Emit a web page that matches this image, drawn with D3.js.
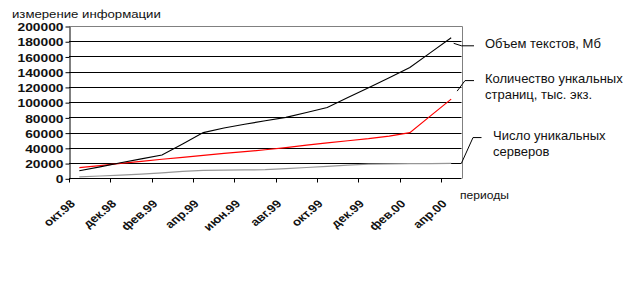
<!DOCTYPE html>
<html><head><meta charset="utf-8">
<script src="https://cdn.jsdelivr.net/npm/d3@7"></script>
<style>
html,body{margin:0;padding:0;background:#fff;}
svg{display:block;font-family:"Liberation Sans",Arial,sans-serif;}
</style></head>
<body><svg id="c" width="636" height="281"></svg>
<script>
const categories = ["окт.98","ноя.98","дек.98","янв.99","фев.99","мар.99","апр.99","май.99","июн.99","июл.99","авг.99","сен.99","окт.99","ноя.99","дек.99","янв.00","фев.00","мар.00","апр.00"];
const textVolume = [10000,15000,20500,25500,30500,45000,60000,66000,71000,75500,80000,86500,93000,106000,119000,132000,145500,165000,184500];
const uniquePages = [14000,16700,19500,22200,25000,27600,30200,32700,35000,37500,40200,43500,46500,49300,52000,55500,60000,82000,104000];
const uniqueServers = [2000,3000,4300,5600,7000,9000,10500,10800,11000,11300,12800,14200,15700,17200,18500,19000,19200,19400,19600];
const yTicks = [0,20000,40000,60000,80000,100000,120000,140000,160000,180000,200000];
const seriesNames = ["Объем текстов, Мб", ["Количество ункальных","страниц, тыс. экз."], ["Число уникальных","серверов"]];
const yTitle = "измерение информации";
const xTitle = "периоды";

const svg = d3.select("#c");
const L = 69, R = 461.5, T = 26, B = 178.3;
const x = d3.scaleBand().domain(categories).range([L, R]).padding(0);
const bw = x.bandwidth();
const cx = c => x(c) + bw / 2;
const y = d3.scaleLinear().domain([0, 200000]).range([B, T]);

// gridlines
svg.append("g").selectAll("line").data(yTicks.filter(v => v > 0 && v < 200000)).join("line")
  .attr("x1", L).attr("x2", R).attr("y1", d => Math.round(y(d)) + 0.5).attr("y2", d => Math.round(y(d)) + 0.5)
  .attr("stroke", "#000").attr("stroke-width", 1);

// plot border (top & right gray)
svg.append("path")
  .attr("d", `M${L},${Math.round(T)+0.5}H${Math.round(R)+0.5}V${Math.round(B)+0.5}`)
  .attr("fill", "none").attr("stroke", "#808080").attr("stroke-width", 1);

// y axis
const yAxis = svg.append("g").attr("transform", `translate(${L + 0.5},0.5)`)
  .call(d3.axisLeft(y).tickValues(yTicks).tickSize(4).tickSizeOuter(0).tickFormat(d3.format("d")));
yAxis.select(".domain").attr("stroke", "#000");
yAxis.selectAll(".tick line").attr("stroke", "#000");
yAxis.selectAll(".tick text").attr("x", 0).attr("dy", "0.36em")
  .attr("transform", "translate(-6,0) scale(1.2,1)")
  .attr("font-size", "11.5px").attr("font-weight", "bold").attr("fill", "#111")
  .attr("font-family", "'Liberation Sans',Arial,sans-serif");

// x axis
const xg = svg.append("g").attr("transform", `translate(0,${Math.round(B) + 0.5})`);
xg.append("line").attr("x1", L).attr("x2", R).attr("stroke", "#000");
const tickCats = categories.filter((c, i) => i % 2 === 0);
xg.selectAll("line.t").data(tickCats).join("line").attr("class", "t")
  .attr("x1", d => Math.round(x(d)) + 0.5).attr("x2", d => Math.round(x(d)) + 0.5)
  .attr("y1", 0).attr("y2", 4).attr("stroke", "#000");
xg.selectAll("text").data(tickCats).join("text")
  .attr("transform", d => `translate(${cx(d) - 3.5},26) scale(1.2,1) rotate(-45)`)
  .attr("text-anchor", "end").attr("font-size", "11px").attr("font-weight", "bold").attr("fill", "#111")
  .text(d => d);

// lines
const line = vals => d3.line().x((d, i) => cx(categories[i])).y(d => y(d))(vals);
svg.append("path").attr("d", line(uniqueServers)).attr("fill", "none").attr("stroke", "#969696").attr("stroke-width", 1.2);
svg.append("path").attr("d", line(uniquePages)).attr("fill", "none").attr("stroke", "#ff0000").attr("stroke-width", 1.2);
svg.append("path").attr("d", line(textVolume)).attr("fill", "none").attr("stroke", "#000").attr("stroke-width", 1.1);

// titles
svg.append("text").attr("transform", "translate(12,17.5) scale(1.2,1)")
  .attr("font-size", "11px").attr("fill", "#111").text(yTitle);
svg.append("text").attr("transform", "translate(460,199) scale(1.05,1)")
  .attr("font-size", "11.5px").attr("fill", "#111").text(xTitle);

// annotations with leader lines
const last = categories.length - 1;
const lx = cx(categories[last]);
const ann = svg.append("g").attr("fill", "none").attr("stroke", "#000").attr("stroke-width", 1);
ann.append("path").attr("d", `M${lx + 2.5},${y(textVolume[last]) + 5.5}L${R},${y(textVolume[last]) + 8}H${R + 12.5}`);
ann.append("path").attr("d", `M${lx + 6},${y(uniquePages[last]) - 8}L${R + 3.5},${y(uniquePages[last]) - 18.5}H${R + 12.5}`);
ann.append("path").attr("d", `M${R},${y(20000)}L${R + 11.5},${y(20000) - 25.5}H${R + 20}`);

const tg = svg.append("g").attr("font-size", "13px").attr("fill", "#111");
tg.append("text").attr("x", 485).attr("y", 48).text(seriesNames[0]);
tg.append("text").attr("x", 485).attr("y", 82.5).text(seriesNames[1][0]);
tg.append("text").attr("x", 485).attr("y", 98.5).text(seriesNames[1][1]);
tg.append("text").attr("x", 493).attr("y", 139.5).text(seriesNames[2][0]);
tg.append("text").attr("x", 493).attr("y", 155.5).text(seriesNames[2][1]);
</script></body></html>
